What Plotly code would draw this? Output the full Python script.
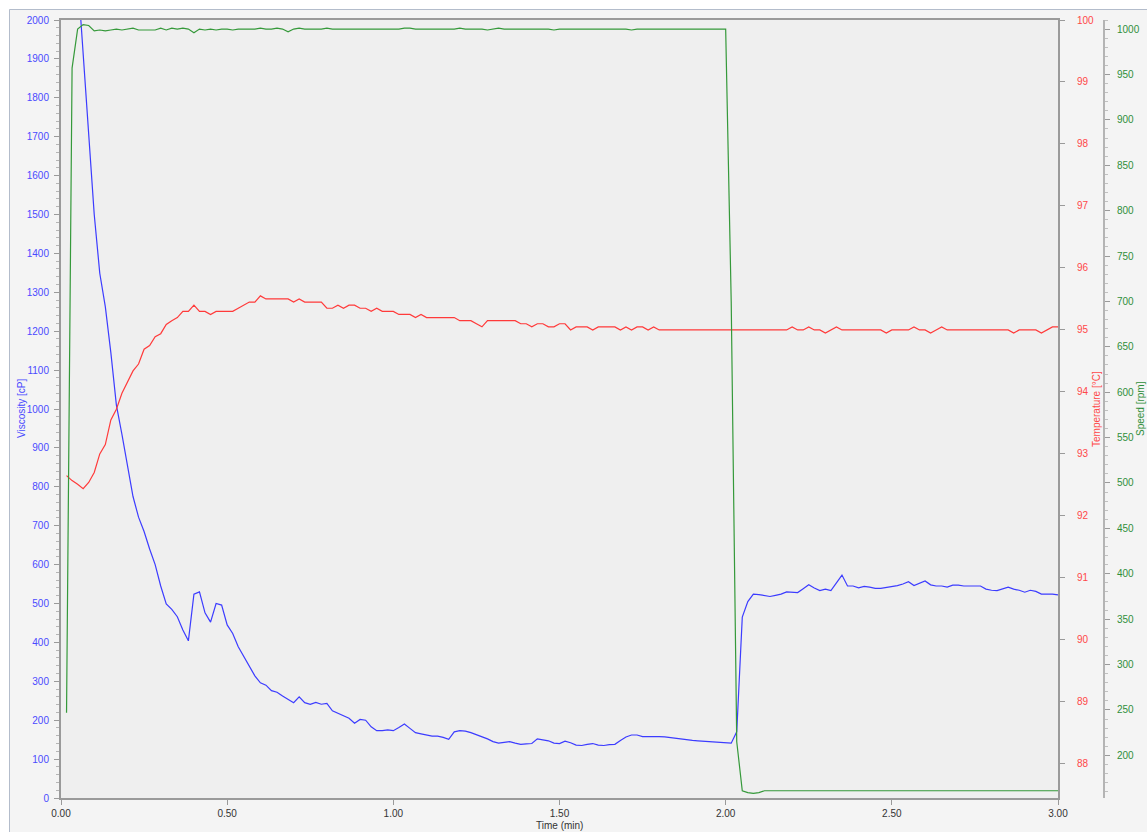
import plotly.graph_objects as go

# sampling: one reading per second, shown in minutes
time_s = list(range(1, 181))
time_min = [s / 60 for s in time_s]

viscosity_cp = [
    2500, 2330, 2120, 1907, 1692, 1500, 1349, 1263, 1145, 1010,
    935, 860, 775, 722, 685, 640, 600, 545, 499, 485,
    466, 432, 404, 524, 530, 476, 452, 500, 496, 445,
    423, 389, 363, 338, 314, 296, 290, 276, 272, 262,
    254, 245, 260, 245, 241, 246, 241, 243, 224, 218,
    212, 205, 192, 202, 200, 183, 173, 173, 175, 173,
    181, 190, 179, 168, 165, 162, 159, 159, 156, 151,
    170, 173, 172, 168, 163, 158, 152, 145, 141, 143,
    145, 141, 138, 139, 140, 152, 150, 147, 141, 140,
    146, 142, 136, 135, 138, 140, 136, 135, 137, 138,
    148, 157, 162, 162, 158, 158, 159, 158, 157, 155,
    153, 152, 150, 148, 147, 146, 145, 144, 143, 142,
    141, 170, 465, 505, 524, 523, 520, 518, 521, 524,
    530, 529, 528, 538, 548, 540, 533, 537, 533, 553,
    573, 545, 545, 540, 544, 542, 539, 539, 541, 543,
    546, 550, 556, 546, 553, 558, 548, 545, 545, 542,
    547, 547, 545, 545, 545, 545, 537, 534, 533, 537,
    542, 537, 534, 529, 534, 531, 524, 524, 524, 522,
]

temperature_c = [
    92.65, 92.57, 92.51, 92.44, 92.54, 92.70, 93.00, 93.15, 93.55, 93.72,
    93.98, 94.17, 94.34, 94.45, 94.69, 94.75, 94.89, 94.94, 95.09, 95.15,
    95.20, 95.30, 95.30, 95.40, 95.30, 95.30, 95.25, 95.30, 95.30, 95.30,
    95.30, 95.35, 95.40, 95.45, 95.45, 95.55, 95.50, 95.50, 95.50, 95.50,
    95.50, 95.45, 95.50, 95.45, 95.45, 95.45, 95.45, 95.35, 95.35, 95.40,
    95.35, 95.40, 95.40, 95.35, 95.35, 95.30, 95.35, 95.30, 95.30, 95.30,
    95.25, 95.25, 95.25, 95.20, 95.25, 95.20, 95.20, 95.20, 95.20, 95.20,
    95.20, 95.15, 95.15, 95.15, 95.10, 95.05, 95.15, 95.15, 95.15, 95.15,
    95.15, 95.15, 95.10, 95.10, 95.05, 95.10, 95.10, 95.05, 95.05, 95.10,
    95.10, 95.00, 95.05, 95.05, 95.05, 95.00, 95.05, 95.05, 95.05, 95.05,
    95.00, 95.05, 95.00, 95.05, 95.05, 95.00, 95.05, 95.00, 95.00, 95.00,
    95.00, 95.00, 95.00, 95.00, 95.00, 95.00, 95.00, 95.00, 95.00, 95.00,
    95.00, 95.00, 95.00, 95.00, 95.00, 95.00, 95.00, 95.00, 95.00, 95.00,
    95.00, 95.05, 95.00, 95.00, 95.05, 95.00, 95.00, 94.95, 95.00, 95.05,
    95.00, 95.00, 95.00, 95.00, 95.00, 95.00, 95.00, 95.00, 94.95, 95.00,
    95.00, 95.00, 95.00, 95.05, 95.00, 95.00, 94.95, 95.00, 95.05, 95.00,
    95.00, 95.00, 95.00, 95.00, 95.00, 95.00, 95.00, 95.00, 95.00, 95.00,
    95.00, 94.95, 95.00, 95.00, 95.00, 95.00, 94.95, 95.00, 95.05, 95.05,
]

speed_rpm = [
    247, 957, 1000, 1005, 1004, 998, 999, 998, 999, 1000,
    999, 1000, 1001, 999, 999, 999, 999, 1001, 999, 1001,
    1000, 1001, 1000, 996, 1000, 999, 1000, 999, 1000, 1000,
    999, 1000, 1000, 1000, 1000, 1001, 1000, 1000, 1001, 1000,
    997, 1000, 1001, 1000, 1000, 1000, 1000, 1001, 1000, 1000,
    1000, 1000, 1000, 1000, 1000, 1000, 1000, 1000, 1000, 1000,
    1000, 1001, 1001, 1000, 1000, 1000, 1000, 1000, 1000, 1000,
    1000, 1001, 1000, 1000, 1000, 1000, 999, 1000, 1001, 1000,
    1000, 1000, 1000, 1000, 1000, 1000, 1000, 1000, 999, 1000,
    1000, 1000, 1000, 1000, 1000, 1000, 1000, 1000, 1000, 1000,
    1000, 1000, 999, 1000, 1000, 1000, 1000, 1000, 1000, 1000,
    1000, 1000, 1000, 1000, 1000, 1000, 1000, 1000, 1000, 1000,
    700, 215, 161, 159, 158, 159, 161, 161, 161, 161,
    161, 161, 161, 161, 161, 161, 161, 161, 161, 161,
    161, 161, 161, 161, 161, 161, 161, 161, 161, 161,
    161, 161, 161, 161, 161, 161, 161, 161, 161, 161,
    161, 161, 161, 161, 161, 161, 161, 161, 161, 161,
    161, 161, 161, 161, 161, 161, 161, 161, 161, 161,
]

x_ticks = [0, 0.5, 1.0, 1.5, 2.0, 2.5, 3.0]

BLUE = "#3c3cff"
RED = "#ff3a3a"
GREEN = "#35993a"
BLUE_TXT = "#4a4aff"
RED_TXT = "#ff4848"
GREEN_TXT = "#2f8f3a"
FONT = "Liberation Sans, Arial, sans-serif"

W, H = 1147, 832
ML, MR, MT, MB = 61, 43, 20, 34
PW = W - ML - MR
PH = H - MT - MB
X_END = (1058 - ML) / PW


def px_x(p):
    return (p - ML) / PW


def px_y(p):
    return (H - MB - p) / PH


fig = go.Figure()
fig.add_trace(go.Scatter(x=time_min, y=viscosity_cp, mode="lines",
                         line=dict(color=BLUE, width=1.2), yaxis="y"))
fig.add_trace(go.Scatter(x=time_min, y=temperature_c, mode="lines",
                         line=dict(color=RED, width=1.2), yaxis="y2"))
fig.add_trace(go.Scatter(x=time_min, y=speed_rpm, mode="lines",
                         line=dict(color=GREEN, width=1.2), yaxis="y3"))

axis_common = dict(showgrid=False, zeroline=False, automargin=False)

fig.update_layout(
    width=W, height=H,
    margin=dict(l=ML, r=MR, t=MT, b=MB, pad=0, autoexpand=False),
    paper_bgcolor="#f4f4f4",
    plot_bgcolor="#efefef",
    showlegend=False,
    font=dict(family=FONT, size=10),
    xaxis=dict(
        **axis_common, domain=[0, X_END], range=[0, 3],
        tickvals=x_ticks, tickformat=".2f",
        ticks="outside", ticklen=5, tickcolor="#9a9a9a",
        showline=True, linecolor="#9a9a9a", linewidth=2, mirror=True,
        tickfont=dict(color="#333333", size=10, family=FONT),
    ),
    yaxis=dict(
        **axis_common, range=[0, 2000], dtick=100,
        ticks="outside", ticklen=5, tickcolor="#9a9a9a",
        minor=dict(dtick=20, ticks="outside", ticklen=3, tickcolor="#b5b5b5"),
        showline=True, linecolor="#9a9a9a", linewidth=2, mirror=True,
        tickfont=dict(color=BLUE_TXT, size=10, family=FONT),
        ticklabelstandoff=3,
    ),
    yaxis2=dict(
        **axis_common, overlaying="y", side="right", anchor="x",
        range=[87.45, 100], dtick=1,
        ticks="outside", ticklen=6, tickcolor="#9a9a9a",
        showline=False,
        tickfont=dict(color=RED_TXT, size=10, family=FONT),
        ticklabelstandoff=10,
    ),
    yaxis3=dict(
        **axis_common, overlaying="y", side="right", anchor="free",
        position=1.0, range=[153, 1010], dtick=50,
        ticks="outside", ticklen=5, tickcolor="#9a9a9a",
        minor=dict(dtick=10, ticks="outside", ticklen=3, tickcolor="#c0c0c0"),
        showline=True, linecolor="#b4b4b4", linewidth=2,
        tickfont=dict(color=GREEN_TXT, size=10, family=FONT),
        ticklabelstandoff=5,
    ),
    annotations=[
        dict(text="Viscosity [cP]", xref="paper", yref="paper",
             x=px_x(21), y=0.5, textangle=-90, showarrow=False,
             xanchor="center", yanchor="middle",
             font=dict(color=BLUE_TXT, size=10, family=FONT)),
        dict(text="Temperature [°C]", xref="paper", yref="paper",
             x=px_x(1096), y=0.5, textangle=-90, showarrow=False,
             xanchor="center", yanchor="middle",
             font=dict(color=RED_TXT, size=10, family=FONT)),
        dict(text="Speed [rpm]", xref="paper", yref="paper",
             x=px_x(1140), y=0.5, textangle=-90, showarrow=False,
             xanchor="center", yanchor="middle",
             font=dict(color=GREEN_TXT, size=10, family=FONT)),
        dict(text="Time (min)", xref="paper", yref="paper",
             x=px_x(559), y=px_y(825), showarrow=False,
             xanchor="center", yanchor="middle",
             font=dict(color="#333333", size=10, family=FONT)),
    ],
    shapes=[
        # white strips outside the panel frame
        dict(type="rect", xref="paper", yref="paper",
             x0=px_x(-5), x1=px_x(9), y0=px_y(840), y1=px_y(-5),
             fillcolor="white", line=dict(width=0), layer="below"),
        dict(type="rect", xref="paper", yref="paper",
             x0=px_x(-5), x1=px_x(1155), y0=px_y(9), y1=px_y(-5),
             fillcolor="white", line=dict(width=0), layer="below"),
        # frame lines
        dict(type="line", xref="paper", yref="paper",
             x0=px_x(9.5), x1=px_x(1155), y0=px_y(9.5), y1=px_y(9.5),
             line=dict(color="#b3bccb", width=1)),
        dict(type="line", xref="paper", yref="paper",
             x0=px_x(9.5), x1=px_x(9.5), y0=px_y(9.5), y1=px_y(840),
             line=dict(color="#b3bccb", width=1)),
    ],
)

fig.write_html(
    "out.html",
    config={"displayModeBar": False},
    post_script="document.body.style.margin='0';document.body.style.overflow='hidden';",
)
